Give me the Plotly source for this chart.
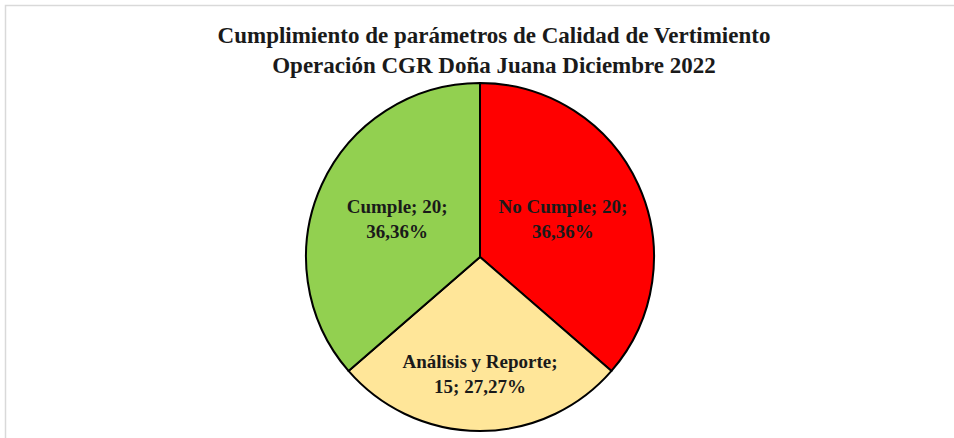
import plotly.graph_objects as go

categories = ["No Cumple", "Análisis y Reporte", "Cumple"]
values = [20, 15, 20]
colors = ["#FF0000", "#FFE699", "#92D050"]

total = sum(values)
def fmt_pct(v):
    return f"{v / total * 100:.2f}".replace(".", ",") + "%"

texts = [
    f"<b>{categories[0]}; {values[0]};<br>{fmt_pct(values[0])}</b>",
    f"<b>{categories[1]};<br>{values[1]}; {fmt_pct(values[1])}</b>",
    f"<b>{categories[2]}; {values[2]};<br>{fmt_pct(values[2])}</b>",
]

W, H = 954, 438
cx, cy, r = 480, 257, 174

fig = go.Figure(go.Pie(
    labels=categories,
    values=values,
    text=texts,
    textinfo="text",
    textposition="inside",
    insidetextorientation="horizontal",
    sort=False,
    direction="clockwise",
    rotation=0,
    marker=dict(colors=colors, line=dict(color="#000000", width=2)),
    textfont=dict(family="Liberation Serif", size=19, color="#1a1a1a"),
    showlegend=False,
    hoverinfo="label+value+percent",
    domain=dict(x=[(cx - r) / W, (cx + r) / W], y=[(H - cy - r) / H, (H - cy + r) / H]),
))

fig.update_layout(
    width=W, height=H,
    margin=dict(l=0, r=0, t=0, b=0),
    paper_bgcolor="white",
    plot_bgcolor="white",
    title=dict(
        text="<b>Cumplimiento de parámetros de Calidad de Vertimiento<br>Operación CGR Doña Juana Diciembre 2022</b>",
        x=494 / W, xanchor="center",
        y=1 - 43 / H, yanchor="top",
        font=dict(family="Liberation Serif", size=23, color="#1a1a1a"),
    ),
    shapes=[dict(type="rect", xref="paper", yref="paper",
                 x0=5.5 / W, x1=1.02, y0=-0.02, y1=1 - 5.5 / H,
                 line=dict(color="#d9d9d9", width=1.5))],
)

fig.write_html("out.html", config={"displayModeBar": False},
               post_script="document.body.style.margin='0';document.body.style.overflow='hidden';")
